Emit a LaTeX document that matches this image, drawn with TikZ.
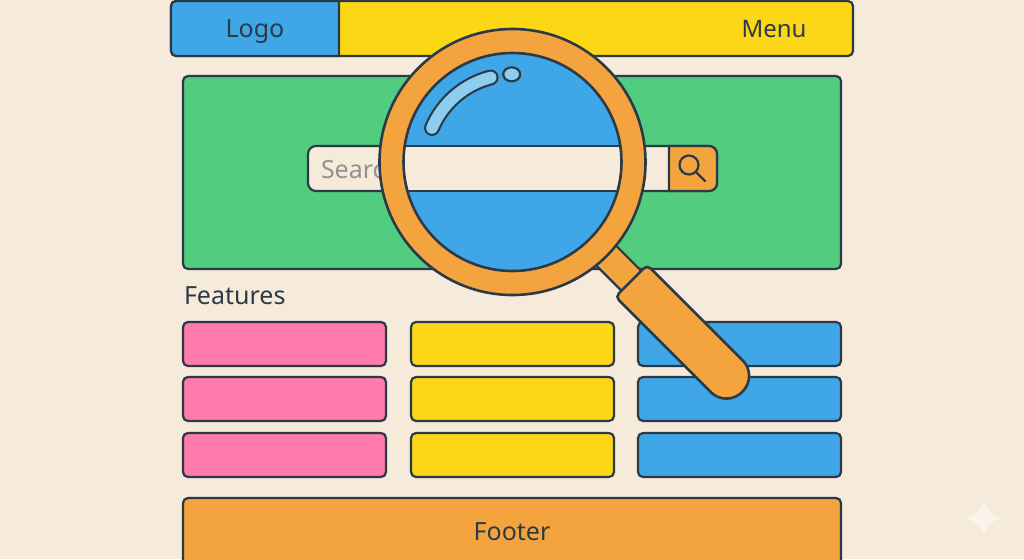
\documentclass[tikz,border=0pt]{standalone}
\usepackage{fontspec}
\usepackage{xcolor}
\usetikzlibrary{positioning, shapes.geometric}
\setmainfont{Noto Sans}
\definecolor{paper}{HTML}{F6EADB}
\definecolor{ink}{HTML}{2C3A47}
\definecolor{skyblue}{HTML}{3FA7E8}
\definecolor{lightblue}{HTML}{8CCDF0}
\definecolor{sun}{HTML}{FBD716}
\definecolor{leaf}{HTML}{52CC7F}
\definecolor{rose}{HTML}{FF7BAC}
\definecolor{amber}{HTML}{F4A43F}
\definecolor{spark}{HTML}{FBF4EA}

\begin{document}
\begin{tikzpicture}[x=1pt, y=-1pt, every node/.style={inner sep=0pt, outer sep=0pt},
  outline/.style={draw=ink, line width=2.2pt},
  panel/.style={outline, rounded corners=5pt},
  card/.style={panel, minimum width=203pt, minimum height=44pt},
  label/.style={font=\fontsize{25}{30}\selectfont, color=ink, anchor=base}]
\useasboundingbox (0,0) rectangle (1024,559);
\clip (0,0) rectangle (1024,559);
\fill[paper] (0,0) rectangle (1024,559);

% header
\node[panel, fill=sun, minimum width=682pt, minimum height=55pt] (header) at (512,28.5) {};
\draw[outline, fill=skyblue] (339,1) -- (339,56) [rounded corners=5pt] -- (171,56) -- (171,1) [sharp corners] -- cycle;
\node[label] (logo) at (255,38) {Logo};
\node[label, font=\fontsize{24}{30}\selectfont] (menu) at (774,38) {Menu};

% hero and search bar
\node[panel, fill=leaf, minimum width=658pt, minimum height=193pt] (hero) at (512,172.5) {};
\node[panel, rounded corners=8pt, fill=paper, minimum width=409pt, minimum height=45pt] (search) at (512.5,168.5) {};
\node[label, anchor=base west, color=ink!50!paper] (hint) at (321,178) {Search};
\draw[outline, fill=amber] (669,146) [rounded corners=8pt] -- (717,146) -- (717,191) [sharp corners] -- (669,191) -- cycle;
\node[circle, draw=ink, line width=2.2pt, minimum size=19pt] (glass) at (689,165) {};
\coordinate (glassend) at (705,181);
\draw[ink, line width=2.2pt, line cap=round] (glass.south east) -- (glassend);

% cards
\node[label, anchor=base west] (features) at (184,304) {Features};
\node[card, fill=rose] (a1) at (284.5,344) {};
\node[card, fill=rose, below=11pt of a1] (a2) {};
\node[card, fill=rose, below=12pt of a2] (a3) {};
\node[card, fill=sun, right=25pt of a1] (b1) {};
\node[card, fill=sun, right=25pt of a2] (b2) {};
\node[card, fill=sun, right=25pt of a3] (b3) {};
\node[card, fill=skyblue, right=24pt of b1] (c1) {};
\node[card, fill=skyblue, right=24pt of b2] (c2) {};
\node[card, fill=skyblue, right=24pt of b3] (c3) {};

% footer
\node[panel, fill=amber, minimum width=658pt, minimum height=80pt] (footer) at (512,538) {};
\node[label] (foottext) at (512,540) {Footer};

% magnifier
\begin{scope}[shift={(512.5,162)}, rotate=-45]
\draw[outline, fill=amber] (115,-14) rectangle (170,14);
\end{scope}
\node[circle, outline, line width=2.6pt, fill=amber, minimum size=266pt] (lens) at (512.5,162) {};
\node[circle, fill=skyblue, minimum size=218pt] (pane) at (512.5,162) {};
\begin{scope}
\clip (512.5,162) circle [radius=109pt];
\draw[outline, fill=paper] (390,146) rectangle (640,191);
\end{scope}
\node[circle, outline, line width=2.6pt, minimum size=218pt] (rim) at (512.5,162) {};
\draw[ink, line width=16pt, line cap=round] (432,128) arc [start angle=157, end angle=104.5, radius=87.5pt];
\draw[lightblue, line width=11.6pt, line cap=round] (432,128) arc [start angle=157, end angle=104.5, radius=87.5pt];
\node[ellipse, outline, fill=lightblue, minimum width=17pt, minimum height=14pt] (glint) at (511.7,74.3) {};
\begin{scope}[shift={(512.5,162)}, rotate=-45]
\draw[outline, line width=2.6pt, fill=amber] (168,0) [rounded corners=5pt] -- (168,22.5) [rounded corners=22pt] -- (325,22.5) -- (325,-22.5) [rounded corners=5pt] -- (168,-22.5) -- cycle;
\end{scope}

% sparkle
\fill[spark] (983.5,501) .. controls (986,510) and (992,515) .. (1001,518) .. controls (992,521) and (986,526) .. (983.5,535) .. controls (981,526) and (975,521) .. (966,518) .. controls (975,515) and (981,510) .. cycle;
\end{tikzpicture}
\end{document}
